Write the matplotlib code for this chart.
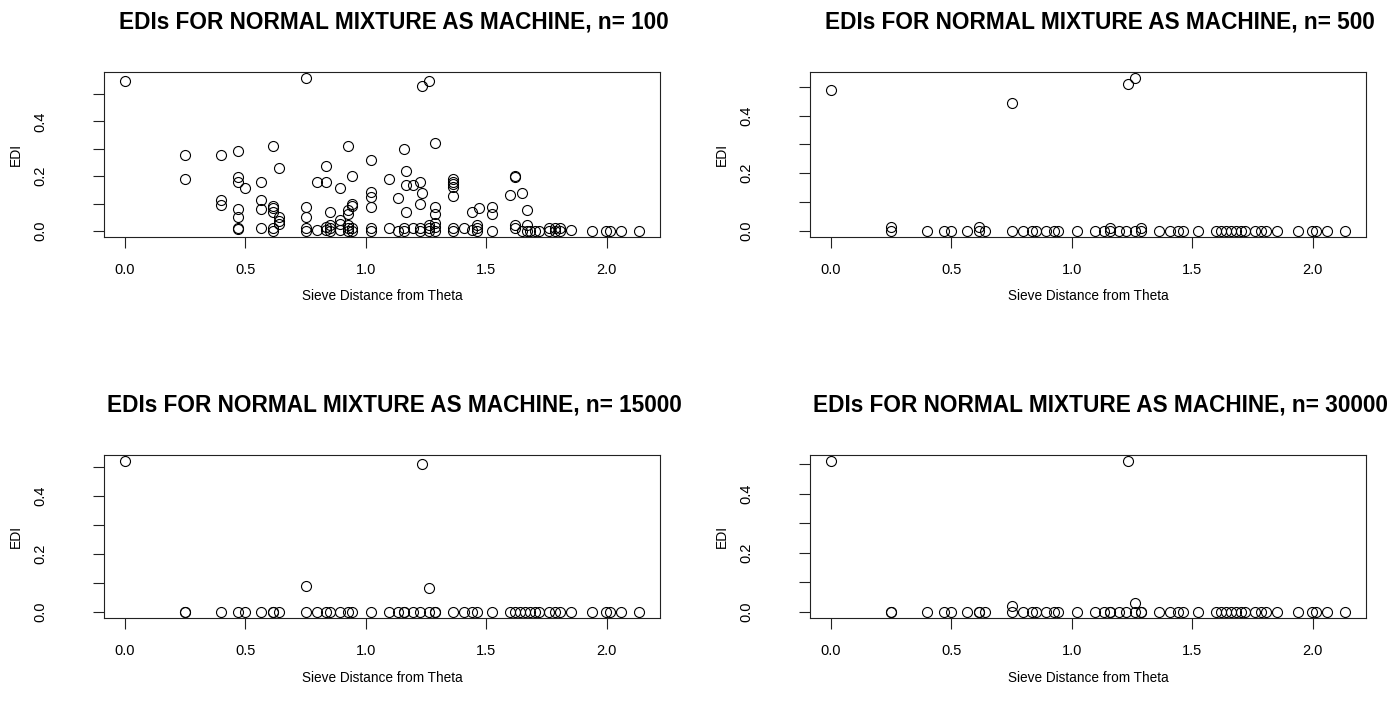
import matplotlib
matplotlib.use("Agg")
import matplotlib.pyplot as plt

plt.rcParams['font.family'] = ['Liberation Sans', 'DejaVu Sans']

# n = 100 panel: every candidate theta with its own EDI value
dist_n100 = [0.0,
             0.25, 0.25,
             0.40, 0.40, 0.40,
             0.47, 0.47, 0.47, 0.47, 0.47, 0.47, 0.47,
             0.50,
             0.565, 0.565, 0.565, 0.565,
             0.617, 0.617, 0.617, 0.617, 0.617, 0.617,
             0.64, 0.64, 0.64, 0.64,
             0.753, 0.753, 0.753, 0.753, 0.753,
             0.80, 0.80,
             0.837, 0.837, 0.837, 0.837,
             0.85, 0.85, 0.85, 0.85,
             0.893, 0.893, 0.893, 0.893,
             0.927, 0.927, 0.927, 0.927, 0.927, 0.927,
             0.943, 0.943, 0.943, 0.943, 0.943,
             1.023, 1.023, 1.023, 1.023, 1.023, 1.023,
             1.095, 1.095,
             1.132, 1.132,
             1.160, 1.167, 1.167, 1.167, 1.160, 1.160,
             1.198, 1.198,
             1.226, 1.233, 1.226, 1.226, 1.226,
             1.234,
             1.263, 1.263, 1.263, 1.263,
             1.288, 1.288, 1.288, 1.288, 1.288, 1.288,
             1.36, 1.36, 1.36, 1.36, 1.36, 1.36, 1.36,
             1.409,
             1.44, 1.44,
             1.463, 1.463, 1.463,
             1.47,
             1.525, 1.525, 1.525,
             1.598,
             1.619, 1.619, 1.619, 1.619,
             1.649, 1.649,
             1.667, 1.667, 1.667,
             1.68, 1.70, 1.72,
             1.76, 1.76, 1.784, 1.784, 1.805, 1.805,
             1.853,
             1.938, 1.998, 2.011, 2.06, 2.135]
edi_n100 = [0.549,
            0.278, 0.189,
            0.278, 0.111, 0.093,
            0.290, 0.197, 0.179, 0.080, 0.049, 0.012, 0.008,
            0.158,
            0.179, 0.111, 0.080, 0.010,
            0.309, 0.090, 0.082, 0.070, 0.010, 0.0,
            0.228, 0.050, 0.035, 0.025,
            0.558, 0.089, 0.050, 0.010, 0.0,
            0.179, 0.005,
            0.238, 0.179, 0.015, 0.005,
            0.068, 0.020, 0.010, 0.0,
            0.158, 0.040, 0.025, 0.005,
            0.309, 0.075, 0.060, 0.020, 0.010, 0.0,
            0.200, 0.099, 0.090, 0.010, 0.0,
            0.259, 0.142, 0.123, 0.089, 0.010, 0.0,
            0.191, 0.010,
            0.121, 0.0,
            0.299, 0.220, 0.169, 0.068, 0.010, 0.0,
            0.169, 0.010,
            0.179, 0.138, 0.099, 0.010, 0.0,
            0.531,
            0.549, 0.020, 0.010, 0.0,
            0.321, 0.089, 0.060, 0.030, 0.015, 0.0,
            0.190, 0.180, 0.170, 0.160, 0.127, 0.012, 0.0,
            0.010,
            0.068, 0.003,
            0.020, 0.010, 0.0,
            0.084,
            0.089, 0.063, 0.0,
            0.132,
            0.200, 0.197, 0.020, 0.012,
            0.140, 0.0,
            0.078, 0.020, 0.0,
            0.0, 0.0, 0.0,
            0.010, 0.0, 0.010, 0.0, 0.010, 0.0,
            0.005,
            0.0, 0.0, 0.0, 0.0, 0.0]

# larger n panels share the same sieve distances
dist_sieve = [0.0, 0.25, 0.25, 0.40, 0.47, 0.50, 0.565, 0.617, 0.617, 0.64,
              0.753, 0.753, 0.80, 0.837, 0.85, 0.893, 0.927, 0.943, 1.023, 1.095,
              1.132, 1.16, 1.16, 1.198, 1.226, 1.234, 1.263, 1.263, 1.288, 1.288,
              1.36, 1.409, 1.44, 1.463, 1.525, 1.598, 1.619, 1.64, 1.66, 1.68,
              1.70, 1.72, 1.76, 1.784, 1.805, 1.853, 1.938, 1.998, 2.011, 2.06,
              2.135]
edi_n500 = [0.489, 0.012, 0.0, 0.0, 0.0, 0.0, 0.0, 0.012, 0.0, 0.0,
            0.442, 0.0, 0.0, 0.0, 0.0, 0.0, 0.0, 0.0, 0.0, 0.0,
            0.0, 0.010, 0.0, 0.0, 0.0, 0.510, 0.530, 0.0, 0.010, 0.0,
            0.0, 0.0, 0.0, 0.0, 0.0, 0.0, 0.0, 0.0, 0.0, 0.0,
            0.0, 0.0, 0.0, 0.0, 0.0, 0.0, 0.0, 0.0, 0.0, 0.0,
            0.0]
edi_n15000 = [0.520, 0.0, 0.0, 0.0, 0.0, 0.0, 0.0, 0.0, 0.0, 0.0,
              0.089, 0.0, 0.0, 0.0, 0.0, 0.0, 0.0, 0.0, 0.0, 0.0,
              0.0, 0.0, 0.0, 0.0, 0.0, 0.509, 0.081, 0.0, 0.0, 0.0,
              0.0, 0.0, 0.0, 0.0, 0.0, 0.0, 0.0, 0.0, 0.0, 0.0,
              0.0, 0.0, 0.0, 0.0, 0.0, 0.0, 0.0, 0.0, 0.0, 0.0,
              0.0]
edi_n30000 = [0.511, 0.0, 0.0, 0.0, 0.0, 0.0, 0.0, 0.0, 0.0, 0.0,
              0.020, 0.0, 0.0, 0.0, 0.0, 0.0, 0.0, 0.0, 0.0, 0.0,
              0.0, 0.0, 0.0, 0.0, 0.0, 0.511, 0.032, 0.0, 0.0, 0.0,
              0.0, 0.0, 0.0, 0.0, 0.0, 0.0, 0.0, 0.0, 0.0, 0.0,
              0.0, 0.0, 0.0, 0.0, 0.0, 0.0, 0.0, 0.0, 0.0, 0.0,
              0.0]

panels = [
    (dist_n100, edi_n100, 'n= 100'),
    (dist_sieve, edi_n500, 'n= 500'),
    (dist_sieve, edi_n15000, 'n= 15000'),
    (dist_sieve, edi_n30000, 'n= 30000'),
]

fig = plt.figure(figsize=(13.95, 7.13), dpi=100)
W, H = 1395, 713
# pixel boxes (left, top, right, bottom) of each plot region
boxes = [(104, 72, 660, 237), (810, 72, 1366, 237),
         (104, 455, 660, 618), (810, 455, 1366, 618)]

for (xs, ys, tag), (l, t, r, b) in zip(panels, boxes):
    ax = fig.add_axes([l / W, 1 - b / H, (r - l) / W, (b - t) / H])
    ax.plot(xs, ys, linestyle='none', marker='o', markersize=7.2,
            markerfacecolor='none', markeredgecolor='black', markeredgewidth=0.8)
    ax.margins(0.04)
    ax.set_xticks([0.0, 0.5, 1.0, 1.5, 2.0])
    ax.set_xticklabels(['0.0', '0.5', '1.0', '1.5', '2.0'])
    ax.set_yticks([0.0, 0.1, 0.2, 0.3, 0.4, 0.5])
    ax.set_yticklabels(['0.0', '', '0.2', '', '0.4', ''])
    ax.tick_params(axis='both', direction='out', length=8, width=0.8,
                   labelsize=10.5, color='#222222')
    ax.tick_params(axis='x', pad=11)
    ax.tick_params(axis='y', labelrotation=90, pad=33)
    for lab in ax.get_yticklabels():
        lab.set_va('center')
    for s in ax.spines.values():
        s.set_linewidth(0.8)
        s.set_color('#222222')

    wid = r - l
    hgt = b - t
    top_row = t < 300
    title_y = (b - (22 if top_row else 405)) / hgt
    ax.text(0.5 + 12 / wid, title_y, 'EDIs FOR NORMAL MIXTURE AS MACHINE, ' + tag,
            transform=ax.transAxes, ha='center', va='center',
            fontsize=16.3, fontweight='bold')
    xlab_y = (b - (296 if top_row else 678)) / hgt
    ax.text(0.5, xlab_y, 'Sieve Distance from Theta', transform=ax.transAxes,
            ha='center', va='center', fontsize=9.8)
    ax.text(-88 / wid, 0.5, 'EDI', transform=ax.transAxes,
            ha='center', va='center', rotation=90, fontsize=10)

fig.savefig('out.png', dpi=100)
